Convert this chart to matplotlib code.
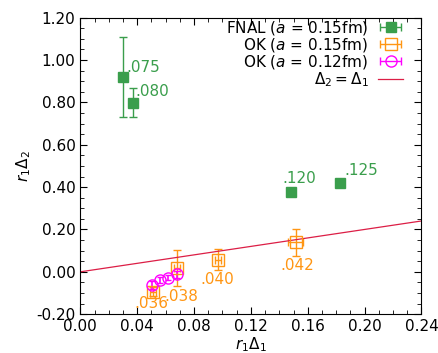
import matplotlib

matplotlib.use("Agg")

import matplotlib.pyplot as plt
import numpy as np
from matplotlib.legend_handler import HandlerErrorbar
from matplotlib.ticker import MultipleLocator, FormatStrFormatter

# FNAL (a = 0.15 fm)
fnal_x = [0.0303, 0.0371, 0.148, 0.183]
fnal_y = [0.918, 0.798, 0.377, 0.421]
fnal_yerr_lo = [0.189, 0.069, 0.0, 0.0]
fnal_yerr_hi = [0.189, 0.068, 0.0, 0.0]
fnal_lab = [".075", ".080", ".120", ".125"]

# OK (a = 0.15 fm)
ok15_x = [0.0509, 0.068, 0.0969, 0.1515]
ok15_y = [-0.094, 0.018, 0.057, 0.139]
ok15_xerr = [0.002, 0.002, 0.002, 0.0055]
ok15_yerr = [0.02, 0.085, 0.05, 0.065]
ok15_lab = [".036", ".038", ".040", ".042"]

# OK (a = 0.12 fm)
ok12_x = [0.0505, 0.0558, 0.0614, 0.068]
ok12_y = [-0.062, -0.040, -0.027, -0.012]
ok12_yerr = [0.02, 0.015, 0.012, 0.015]

line_x = [0.0, 0.24]

GREEN = "#3a9e4c"
ORANGE = "#ff9614"
MAGENTA = "#ff00ff"
RED = "#dc1e46"

plt.rcParams["font.size"] = 10
plt.rcParams["mathtext.fontset"] = "dejavusans"

fig, ax = plt.subplots(figsize=(4.39, 3.53), dpi=100)

ax.errorbar(fnal_x, fnal_y, yerr=[fnal_yerr_lo, fnal_yerr_hi], fmt="s",
            ms=7, color=GREEN, ecolor=GREEN, elinewidth=1, capsize=3)
ax.errorbar(ok15_x, ok15_y, xerr=ok15_xerr, yerr=ok15_yerr, fmt="s",
            ms=9, mfc="none", color=ORANGE, elinewidth=1, capsize=3)
ax.errorbar(ok12_x, ok12_y, yerr=ok12_yerr, fmt="o", ms=8, mfc="none",
            color=MAGENTA, elinewidth=1.2, capsize=2)
ln, = ax.plot(line_x, line_x, "-", color=RED, lw=0.9)

# legend proxies: horizontal error bars, gnuplot style
h_fnal = ax.errorbar([np.nan], [np.nan], xerr=[1], fmt="s", ms=7,
                     color=GREEN, elinewidth=1, capsize=3)
h_ok15 = ax.errorbar([np.nan], [np.nan], xerr=[1], fmt="s", ms=9,
                     mfc="none", color=ORANGE, elinewidth=1, capsize=3)
h_ok12 = ax.errorbar([np.nan], [np.nan], xerr=[1], fmt="o", ms=8,
                     mfc="none", color=MAGENTA, elinewidth=1, capsize=3)

# point labels (offsets in points)
fnal_off = [(2, 2), (2, 3), (-6, 4), (3, 3)]
for x, y, s, o in zip(fnal_x, fnal_y, fnal_lab, fnal_off):
    ax.annotate(s, (x, y), xytext=o, textcoords="offset points",
                color=GREEN, fontsize=11, ha="left", va="bottom")
ok_off = [(-13, -3), (-9, -15), (-13, -9), (-11, -11)]
for x, y, s, o in zip(ok15_x, ok15_y, ok15_lab, ok_off):
    ax.annotate(s, (x, y), xytext=o, textcoords="offset points",
                color=ORANGE, fontsize=11, ha="left", va="top")

ax.set_xlim(0, 0.24)
ax.set_ylim(-0.2, 1.2)
ax.xaxis.set_major_locator(MultipleLocator(0.04))
ax.xaxis.set_minor_locator(MultipleLocator(0.01))
ax.yaxis.set_major_locator(MultipleLocator(0.2))
ax.yaxis.set_minor_locator(MultipleLocator(0.05))
ax.xaxis.set_major_formatter(FormatStrFormatter("%.2f"))
ax.yaxis.set_major_formatter(FormatStrFormatter("%.2f"))
ax.tick_params(which="both", direction="in", top=True, right=True)
ax.tick_params(which="major", length=5)
ax.tick_params(which="minor", length=3)
ax.tick_params(labelsize=11)
ax.set_xlabel(r"$r_1\Delta_1$", fontsize=11, labelpad=1)
ax.set_ylabel(r"$r_1\Delta_2$", fontsize=11, labelpad=2)

ax.legend([h_fnal, h_ok15, h_ok12, ln],
          ["FNAL ($a$ = 0.15fm)", "OK ($a$ = 0.15fm)", "OK ($a$ = 0.12fm)",
           r"$\Delta_2 = \Delta_1$"],
          handler_map={h: HandlerErrorbar(xerr_size=0.7)
                       for h in (h_fnal, h_ok15, h_ok12)},
          loc="upper right", bbox_to_anchor=(0.95, 1.0), frameon=False,
          markerfirst=False, fontsize=11, handlelength=1.6,
          borderaxespad=0.1, borderpad=0.0, labelspacing=-0.06,
          handletextpad=0.65)

fig.subplots_adjust(left=0.183, right=0.96, top=0.95, bottom=0.11)
fig.savefig("out.png", dpi=100)
